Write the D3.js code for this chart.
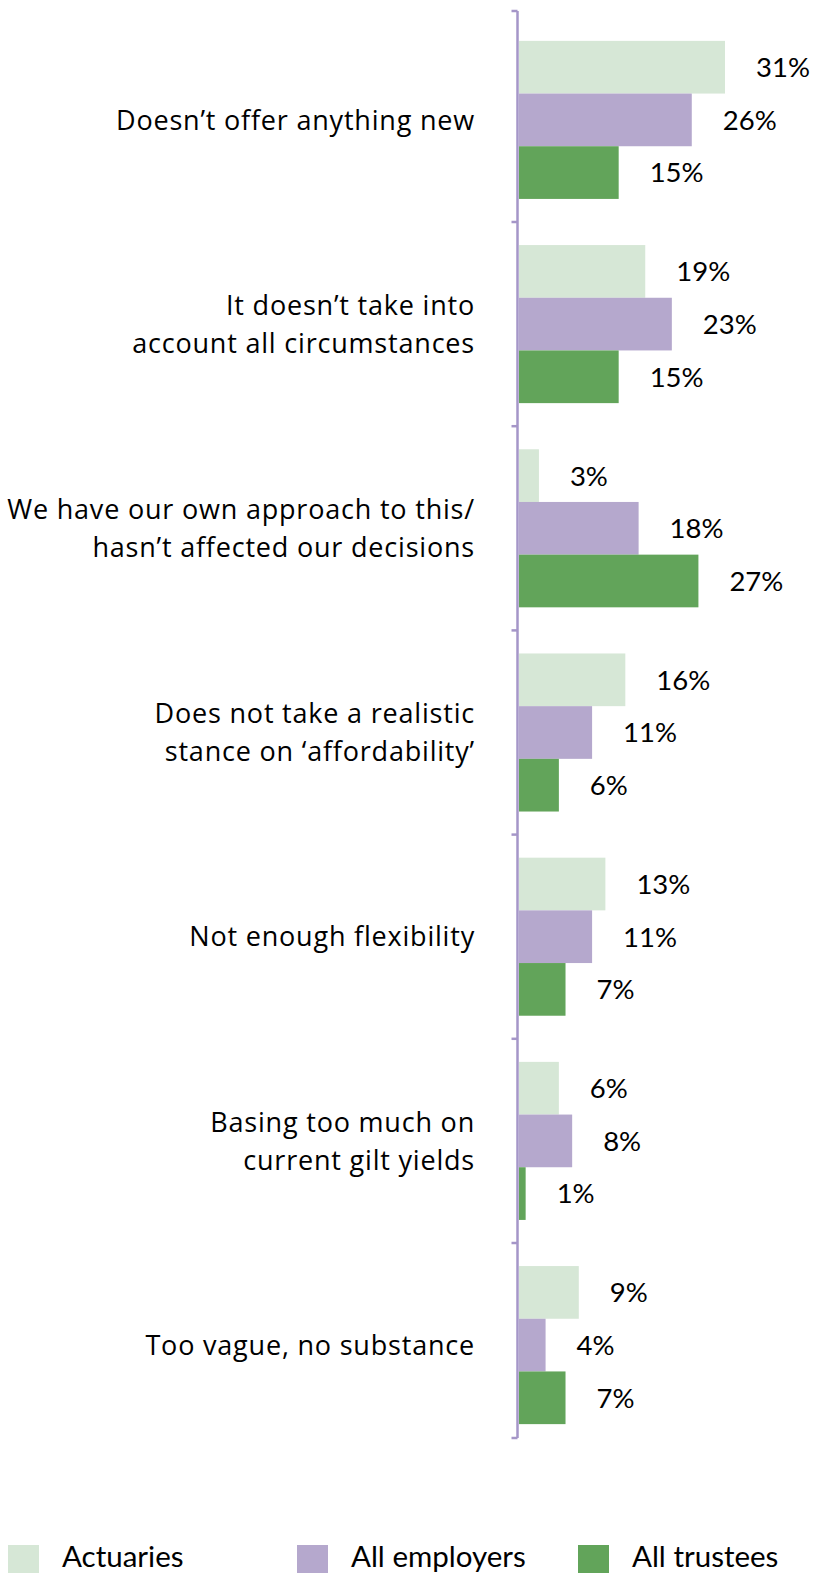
<!DOCTYPE html>
<html>
<head>
<meta charset="utf-8">
<script src="https://cdnjs.cloudflare.com/ajax/libs/d3/7.8.5/d3.min.js"></script>
<style>
  html, body { margin: 0; padding: 0; background: #fff; }
  #chart { width: 816px; height: 1573px; }
  .cat-label { font-family: "Open Sans", "Noto Sans", sans-serif; font-size: 27px; letter-spacing: 0.8px; fill: #000; }
  .val-label { font-family: "Lato", "Noto Sans", sans-serif; font-size: 27.5px; fill: #000; }
  .legend-label { font-family: "Lato", "Noto Sans", sans-serif; font-size: 29.5px; fill: #000; }
</style>
</head>
<body>
<div id="chart"></div>
<script>
(function () {
  // Data
  const categories = [
    ["Doesn\u2019t offer anything new"],
    ["It doesn\u2019t take into", "account all circumstances"],
    ["We have our own approach to this/", "hasn\u2019t affected our decisions"],
    ["Does not take a realistic", "stance on \u2018affordability\u2019"],
    ["Not enough flexibility"],
    ["Basing too much on", "current gilt yields"],
    ["Too vague, no substance"]
  ];
  const seriesNames = ["Actuaries", "All employers", "All trustees"];
  const actuaries = [31, 19, 3, 16, 13, 6, 9];
  const employers = [26, 23, 18, 11, 11, 8, 4];
  const trustees = [15, 15, 27, 6, 7, 1, 7];
  const colors = ["#d6e7d6", "#b5a8cd", "#62a45a"];

  const seriesValues = [actuaries, employers, trustees];

  const width = 816;
  const height = 1573;

  const svg = d3.select("#chart")
    .append("svg")
    .attr("width", width)
    .attr("height", height);

  // Scales
  const axisX = 517.5;
  const axisTop = 11;
  const axisBottom = 1438;
  const step = 204.2;
  const x = d3.scaleLinear().domain([0, 31]).range([axisX + 1.5, axisX + 1.5 + 206]);
  const y0 = d3.scaleBand()
    .domain(d3.range(categories.length))
    .range([17.8, 17.8 + step * categories.length])
    .paddingInner(0.226)
    .paddingOuter(0.113);
  const y1 = d3.scaleBand()
    .domain(d3.range(seriesNames.length))
    .range([0, y0.bandwidth()]);

  // Bars
  seriesValues.forEach((vals, s) => {
    const g = svg.append("g");
    g.selectAll("rect")
      .data(vals)
      .join("rect")
      .attr("x", x(0))
      .attr("y", (d, i) => y0(i) + y1(s))
      .attr("width", (d) => x(d) - x(0))
      .attr("height", y1.bandwidth())
      .attr("fill", colors[s]);

    g.selectAll("text")
      .data(vals)
      .join("text")
      .attr("class", "val-label")
      .attr("x", (d) => x(d) + 31)
      .attr("y", (d, i) => y0(i) + y1(s) + y1.bandwidth() / 2)
      .attr("dy", "0.36em")
      .text((d) => d + "%");
  });

  // Axis line with tick marks at category boundaries
  const bounds = d3.range(1, categories.length).map((i) => y0(i) - (y0.step() - y0.bandwidth()) / 2);
  const axisG = svg.append("g").attr("stroke", "#a596c8").attr("stroke-width", 2.5);
  axisG.append("line")
    .attr("x1", axisX).attr("x2", axisX)
    .attr("y1", axisTop).attr("y2", axisBottom);
  axisG.selectAll("line.tick")
    .data([axisTop].concat(bounds, [axisBottom]))
    .join("line")
    .attr("class", "tick")
    .attr("x1", axisX - 6).attr("x2", axisX)
    .attr("y1", (d) => d).attr("y2", (d) => d);

  // Category labels
  const lineGap = 38;
  categories.forEach((lines, i) => {
    const cy = y0(i) + y0.bandwidth() / 2;
    const t = svg.append("text")
      .attr("class", "cat-label")
      .attr("text-anchor", "end");
    lines.forEach((ln, j) => {
      t.append("tspan")
        .attr("x", 475)
        .attr("y", cy + (j - (lines.length - 1) / 2) * lineGap)
        .attr("dy", "0.36em")
        .text(ln);
    });
  });

  // Legend
  const legendX = [8, 297, 578];
  const legend = svg.append("g");
  seriesNames.forEach((name, i) => {
    legend.append("rect")
      .attr("x", legendX[i])
      .attr("y", 1545)
      .attr("width", 31)
      .attr("height", 31)
      .attr("fill", colors[i]);
    legend.append("text")
      .attr("class", "legend-label")
      .attr("x", legendX[i] + 54)
      .attr("y", 1567)
      .text(name);
  });
})();
</script>
</body>
</html>
